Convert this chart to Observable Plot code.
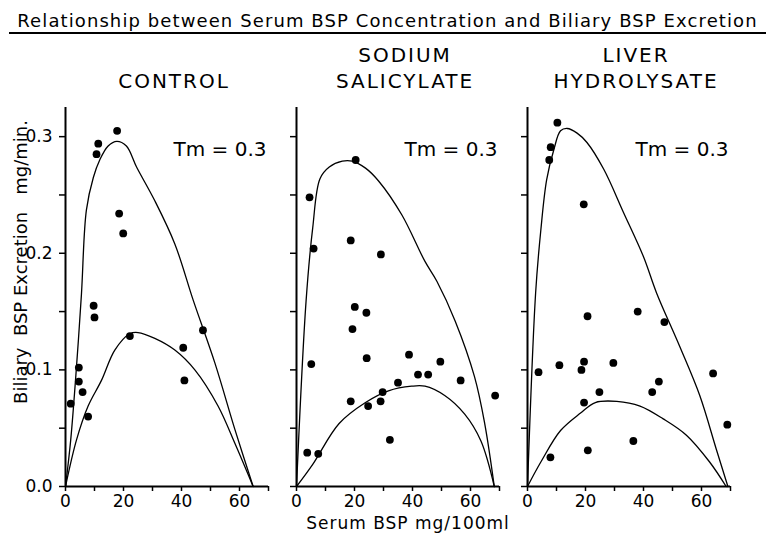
<!DOCTYPE html>
<html><head><meta charset="utf-8">
<script src="https://cdn.jsdelivr.net/npm/d3@7"></script>
<script src="https://cdn.jsdelivr.net/npm/@observablehq/plot@0.6"></script>
<style>
body{margin:0;background:#fff;color:#000;font-family:"DejaVu Sans",sans-serif;}
#head{position:relative;height:36px;}
#head div{position:absolute;left:9px;width:757px;top:10px;height:22px;font-size:18px;line-height:22px;text-align:center;border-bottom:2px solid #000;letter-spacing:1.1px;white-space:nowrap;}
.ttl text{letter-spacing:2px;}
.xlab text{letter-spacing:1px;}
</style></head>
<body>
<div id="head"><div>Relationship between Serum BSP Concentration and Biliary BSP Excretion</div></div>
<div id="chart"></div>
<script>
// Panels
const panels = ["CONTROL", "SODIUM SALICYLATE", "LIVER HYDROLYSATE"];
const panelTitles = ["CONTROL", "SODIUM\nSALICYLATE", "LIVER\nHYDROLYSATE"];
const tmLabels = ["Tm = 0.3", "Tm = 0.3", "Tm = 0.3"];

// Points [serum BSP mg/100ml, biliary BSP excretion mg/min]
const controlPoints = [[11.3,0.294],[10.7,0.285],[17.8,0.305],[18.5,0.234],[19.9,0.217],[9.7,0.155],[10,0.145],[22.2,0.129],[47.4,0.134],[40.6,0.119],[41,0.091],[4.6,0.102],[4.6,0.090],[5.9,0.081],[7.8,0.060],[1.8,0.071]];
const sodiumPoints = [[20.4,0.280],[4.5,0.248],[5.9,0.204],[18.7,0.211],[29.1,0.199],[20.1,0.154],[24.1,0.149],[19.3,0.135],[5.1,0.105],[24.2,0.110],[38.8,0.113],[49.6,0.107],[41.9,0.096],[45.4,0.096],[56.6,0.091],[68.5,0.078],[35,0.089],[29.7,0.081],[18.7,0.073],[29,0.073],[24.7,0.069],[32.2,0.040],[3.7,0.029],[7.5,0.028]];
const liverPoints = [[10.3,0.312],[8,0.291],[7.5,0.280],[19.4,0.242],[20.7,0.146],[38,0.150],[47.2,0.141],[3.8,0.098],[11,0.104],[19.5,0.107],[18.6,0.100],[29.6,0.106],[45.3,0.090],[43,0.081],[24.8,0.081],[19.5,0.072],[64,0.097],[68.9,0.053],[36.5,0.039],[20.8,0.031],[7.9,0.025]];

// Curves
const controlOuter = [[0,0],[1.8,0.04],[3.8,0.103],[5.5,0.165],[7.2,0.237],[9.6,0.265],[11.8,0.28],[14.7,0.292],[17.7,0.296],[21,0.292],[24.5,0.274],[30.8,0.245],[37.7,0.208],[44,0.16],[51.5,0.106],[58.4,0.049],[64.7,0]];
const controlInner = [[0,0],[3.8,0.04],[7.8,0.069],[12.4,0.091],[17,0.117],[22.2,0.131],[25,0.132],[30.8,0.127],[37.7,0.117],[44.6,0.1],[52.6,0.069],[58.4,0.037],[64.7,0]];
const sodiumOuter = [[0,0],[3.3,0.159],[5.6,0.222],[8.1,0.264],[11.3,0.274],[15.8,0.279],[19.2,0.279],[23.8,0.273],[28.3,0.262],[36.3,0.233],[44.3,0.193],[48.4,0.176],[54.7,0.142],[61.4,0.094],[64.9,0.054],[68.2,0]];
const sodiumInner = [[0,0],[5.6,0.019],[14.7,0.054],[23.8,0.072],[31.7,0.082],[39.7,0.086],[44.3,0.086],[51.1,0.078],[58,0.062],[63.6,0.039],[68.2,0]];
const liverOuter = [[0,0],[2.8,0.166],[4.6,0.22],[6.6,0.263],[9.1,0.289],[11.4,0.305],[13.7,0.307],[17.1,0.303],[20.5,0.295],[26.3,0.272],[33.1,0.235],[40,0.197],[44.5,0.166],[52.5,0.12],[59.4,0.078],[65.1,0.032],[69.1,0]];
const liverInner = [[0,0],[4.6,0.021],[11.4,0.048],[18.3,0.063],[23.4,0.072],[30.8,0.073],[38.8,0.069],[46.8,0.058],[54.8,0.044],[62.8,0.021],[68.5,0]];

// Axis ticks
const xTicks = [0,10,20,30,40,50,60,70];
const xTickLabels = [0,20,40,60];
const yTicks = [0,0.05,0.1,0.15,0.2,0.25,0.3];
const yTickLabels = [0,0.1,0.2,0.3];
const xLabel = "Serum BSP mg/100ml";
const yLabel = "Biliary  BSP Excretion   mg/min.";

// Build tables
const pointSets = [controlPoints, sodiumPoints, liverPoints];
const curveSets = [[controlOuter, controlInner], [sodiumOuter, sodiumInner], [liverOuter, liverInner]];
const points = pointSets.flatMap((set, i) => set.map(([x, y]) => ({panel: panels[i], x, y})));
const curves = curveSets.flatMap((pair, i) => pair.flatMap((c, j) => c.map(([x, y]) => ({panel: panels[i], curve: panels[i] + j, x, y}))));
const titles = panels.map((p, i) => ({panel: p, title: panelTitles[i], tm: tmLabels[i]}));

const chart = Plot.plot({
  width: 768,
  height: 497,
  marginTop: 71,
  marginBottom: 47,
  marginLeft: 64,
  marginRight: 36,
  style: {fontFamily: "DejaVu Sans, sans-serif", background: "#fff", color: "#000"},
  fx: {domain: panels, axis: null, paddingInner: 0.12, paddingOuter: 0},
  x: {domain: [0, 70]},
  y: {domain: [0, 0.325]},
  marks: [
    Plot.axisY({ticks: yTicks, tickSize: 6, tickFormat: () => "", label: null, facetAnchor: null, strokeWidth: 1.5}),
    Plot.axisY({ticks: yTickLabels, tickSize: 0, tickPadding: 13, tickFormat: d3.format(".1f"), label: null, fontSize: 17}),
    Plot.axisX({ticks: xTicks, tickSize: 5, tickFormat: () => "", label: null, facetAnchor: null, strokeWidth: 1.5}),
    Plot.axisX({ticks: xTickLabels, tickSize: 0, tickPadding: 8, label: null, facetAnchor: null, fontSize: 17}),
    Plot.ruleX([0], {strokeWidth: 2}),
    Plot.ruleY([0], {strokeWidth: 2}),
    Plot.line(curves, {x: "x", y: "y", z: "curve", fx: "panel", curve: "catmull-rom", strokeWidth: 1.3, stroke: "#000"}),
    Plot.dot(points, {x: "x", y: "y", fx: "panel", r: 3.9, fill: "#000"}),
    Plot.text(titles, {fx: "panel", text: "title", frameAnchor: "top", lineAnchor: "bottom", dy: -20, dx: 7, fontSize: 20, lineHeight: 1.3, className: "ttl"}),
    Plot.text(titles, {fx: "panel", text: "tm", frameAnchor: "top-right", textAnchor: "end", lineAnchor: "middle", dy: 42, dx: -2, fontSize: 20}),
    Plot.text([{panel: panels[0], t: yLabel}], {fx: "panel", text: "t", frameAnchor: "left", textAnchor: "middle", lineAnchor: "middle", rotate: -90, dx: -44, dy: -35, fontSize: 18}),
    Plot.text([{panel: panels[1], t: xLabel}], {fx: "panel", text: "t", frameAnchor: "bottom", lineAnchor: "middle", dy: 37, dx: 10, fontSize: 17, className: "xlab"})
  ]
});
document.getElementById("chart").appendChild(chart);
</script>
</body></html>
